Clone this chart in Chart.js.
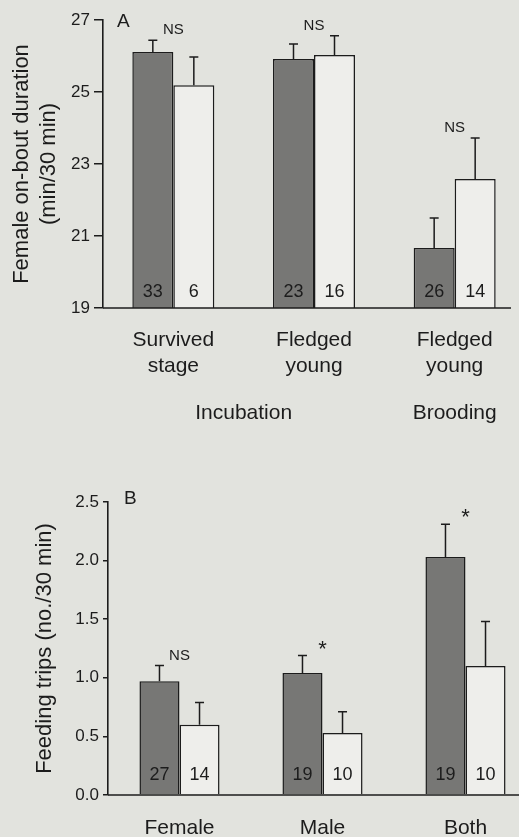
<!DOCTYPE html>
<html>
<head>
<meta charset="utf-8">
<script src="https://cdn.jsdelivr.net/npm/chart.js@4"></script>
<style>
  html, body { margin: 0; padding: 0; background: #e2e3de; }
  #wrap { position: relative; width: 519px; height: 837px; overflow: hidden; background: #e2e3de; }
  canvas { position: absolute; left: 0; }
  #chartA { top: 0; }
  #chartB { top: 470px; }
</style>
</head>
<body>
<div id="wrap">
  <canvas id="chartA" width="530" height="430"></canvas>
  <canvas id="chartB" width="545" height="367"></canvas>
</div>
<script>
// panel A: female on-bout duration
const catsA = [['Survived', 'stage'], ['Fledged', 'young'], ['Fledged', 'young']];
const darkA = [26.11, 25.92, 20.67];
const lightA = [25.19, 26.03, 22.58];
const seDarkA = [0.33, 0.41, 0.83];
const seLightA = [0.78, 0.53, 1.14];
const nDarkA = [33, 23, 26];
const nLightA = [6, 16, 14];
const sigA = ['NS', 'NS', 'NS'];
const stageLabels = ['Incubation', 'Brooding'];

// panel B: feeding trips
const catsB = ['Female', 'Male', 'Both'];
const darkB = [0.97, 1.04, 2.03];
const lightB = [0.60, 0.53, 1.10];
const seDarkB = [0.135, 0.15, 0.28];
const seLightB = [0.19, 0.18, 0.38];
const nDarkB = [27, 19, 19];
const nLightB = [14, 10, 10];
const sigB = ['NS', '*', '*'];

const FONT = '"Liberation Sans", Arial, sans-serif';
const INK = '#1c1c1c';

const annotPlugin = {
  id: 'annot',
  afterDatasetsDraw(chart, args, opts) {
    const ctx = chart.ctx;
    const y = chart.scales.y;
    const area = chart.chartArea;
    const m0 = chart.getDatasetMeta(0);
    const m1 = chart.getDatasetMeta(1);
    ctx.save();
    // x axis line
    ctx.strokeStyle = INK;
    ctx.lineWidth = 1.6;
    ctx.beginPath();
    ctx.moveTo(area.left, area.bottom);
    ctx.lineTo(area.left + opts.xLine, area.bottom);
    ctx.stroke();

    ctx.textAlign = 'center';
    ctx.textBaseline = 'middle';
    ctx.fillStyle = INK;
    for (let i = 0; i < m0.data.length; i++) {
      const bars = [m0.data[i], m1.data[i]];
      const tops = [];
      bars.forEach((bar, k) => {
        const v = chart.data.datasets[k].data[i] + opts.se[k][i];
        const ty = y.getPixelForValue(v);
        tops.push(ty);
        ctx.lineWidth = 1.5;
        ctx.beginPath();
        ctx.moveTo(bar.x, bar.y);
        ctx.lineTo(bar.x, ty);
        ctx.moveTo(bar.x - 4.5, ty);
        ctx.lineTo(bar.x + 4.5, ty);
        ctx.stroke();
        ctx.font = '18px ' + FONT;
        ctx.fillText(String(opts.n[k][i]), bar.x, area.bottom - opts.nOffset);
      });
      const cx = (bars[0].x + bars[1].x) / 2;
      const s = opts.sig[i];
      if (s === '*') {
        ctx.font = '22px ' + FONT;
        ctx.fillText(s, cx, Math.min(...tops) - 6);
      } else {
        ctx.font = '15px ' + FONT;
        ctx.fillText(s, cx, Math.min(...tops) - 10);
      }
    }
    // panel letter
    ctx.font = '19px ' + FONT;
    ctx.textAlign = 'left';
    ctx.fillText(opts.letter, area.left + opts.letterDx, area.top + opts.letterDy);
    // stage labels under the categories
    if (opts.stages) {
      const x = chart.scales.x;
      ctx.font = '21px ' + FONT;
      ctx.textAlign = 'center';
      const mid = (x.getPixelForValue(0) + x.getPixelForValue(1)) / 2;
      ctx.fillText(opts.stages[0], mid, area.bottom + 105);
      ctx.fillText(opts.stages[1], x.getPixelForValue(2), area.bottom + 105);
    }
    ctx.restore();
  }
};

function makeChart(id, cats, dark, light, yOpts, extra, layout) {
  return new Chart(document.getElementById(id), {
    type: 'bar',
    data: {
      labels: cats,
      datasets: [
        { data: dark, backgroundColor: '#777775', borderColor: INK, borderWidth: 1.5 },
        { data: light, backgroundColor: '#eeeeeb', borderColor: INK, borderWidth: 1.5 }
      ]
    },
    options: {
      responsive: false,
      animation: false,
      devicePixelRatio: 1,
      layout: { padding: layout.padding },
      categoryPercentage: layout.catPct,
      barPercentage: 1,
      plugins: {
        legend: { display: false },
        tooltip: { enabled: false },
        annot: extra
      },
      scales: {
        x: {
          grid: { display: false },
          border: { display: false },
          ticks: { color: INK, padding: layout.xPad, font: { family: FONT, size: 21, lineHeight: 1.2 } },
          afterFit(s) { s.height = layout.xHeight; }
        },
        y: Object.assign({
          grid: { drawOnChartArea: false, color: INK, lineWidth: 1.5, tickLength: layout.tickLen, tickColor: INK },
          border: { display: true, color: INK, width: 1.6 },
          title: {
            display: true, text: layout.title, color: INK,
            font: { family: FONT, size: 22, lineHeight: 1.25 },
            padding: { top: layout.titlePad, bottom: 0 }
          },
          afterFit(s) { s.width = layout.yWidth; }
        }, yOpts)
      }
    },
    plugins: [annotPlugin]
  });
}

makeChart('chartA', catsA, darkA, lightA, {
  min: 19, max: 27,
  ticks: { stepSize: 2, color: INK, padding: 4, font: { family: FONT, size: 17 } }
}, {
  se: [seDarkA, seLightA], n: [nDarkA, nLightA], sig: sigA,
  letter: 'A', letterDx: 14, letterDy: 2, stages: stageLabels, xLine: 408, nOffset: 16
}, {
  padding: { top: 20, right: 5, left: 0, bottom: 0 },
  catPct: 0.583, xPad: 12, xHeight: 122, tickLen: 9, yWidth: 103,
  title: ['Female on-bout duration', '(min/30 min)'], titlePad: 8
});

makeChart('chartB', catsB, darkB, lightB, {
  min: 0, max: 2.5,
  ticks: { stepSize: 0.5, color: INK, padding: 4, font: { family: FONT, size: 17 },
           callback: v => v.toFixed(1) }
}, {
  se: [seDarkB, seLightB], n: [nDarkB, nLightB], sig: sigB,
  letter: 'B', letterDx: 16, letterDy: -3, stages: null, xLine: 420, nOffset: 20
}, {
  padding: { top: 32, right: 8, left: 0, bottom: 0 },
  catPct: 0.56, xPad: 13, xHeight: 42, tickLen: 5, yWidth: 108,
  title: 'Feeding trips (no./30 min)', titlePad: 31
});
</script>
</body>
</html>
